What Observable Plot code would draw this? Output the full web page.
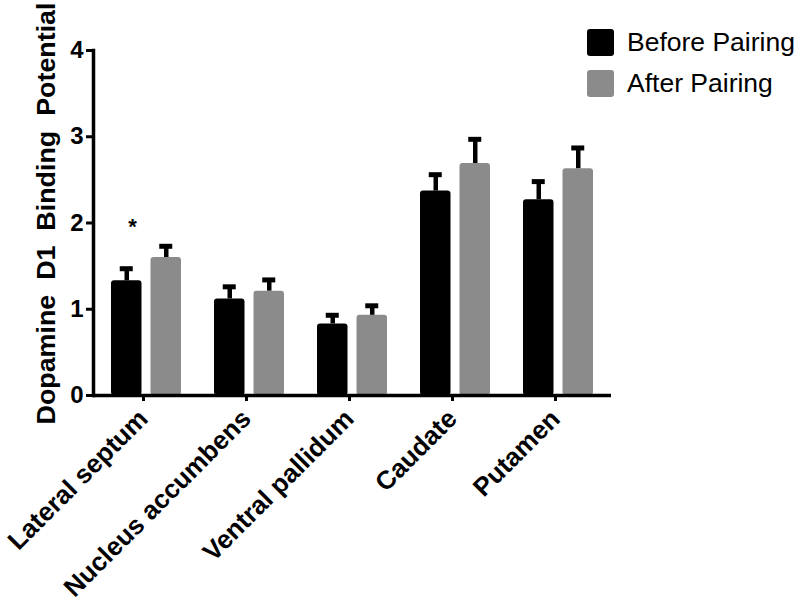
<!DOCTYPE html>
<html><head><meta charset="utf-8">
<script src="https://cdn.jsdelivr.net/npm/d3@7"></script>
<script src="https://cdn.jsdelivr.net/npm/@observablehq/plot@0.6"></script>
<style>
body{margin:0;background:#fff;}
#wrap{position:relative;width:800px;height:605px;font-family:"Liberation Sans",Arial,sans-serif;}
#legend{position:absolute;left:587px;top:22px;}
.item{display:flex;align-items:center;height:41px;font-size:26.5px;color:#000;}
.sw{width:27px;height:27px;border-radius:3px;margin-right:13px;flex:none;}
</style></head><body><div id="wrap"></div>
<script>
const regions = ["Lateral septum", "Nucleus accumbens", "Ventral pallidum", "Caudate", "Putamen"];
const seriesNames = ["Before Pairing", "After Pairing"];
const seriesColors = ["#000000", "#8b8b8b"];
const beforeMean = [1.33, 1.12, 0.83, 2.37, 2.27];
const afterMean = [1.60, 1.21, 0.93, 2.69, 2.63];
const beforeSem = [0.14, 0.14, 0.10, 0.19, 0.21];
const afterSem = [0.13, 0.13, 0.11, 0.28, 0.24];
const yTicks = [0, 1, 2, 3, 4];
const yLabel = "Dopamine  D1  Binding  Potential";
const stars = [{region: "Lateral septum", y: 1.95, text: "*"}];

const rows = [];
regions.forEach((r, i) => {
  rows.push({region: r, series: seriesNames[0], mean: beforeMean[i], sem: beforeSem[i]});
  rows.push({region: r, series: seriesNames[1], mean: afterMean[i], sem: afterSem[i]});
});
const before = rows.filter(d => d.series === seriesNames[0]);
const after = rows.filter(d => d.series === seriesNames[1]);

const font = "'Liberation Sans', Arial, sans-serif";
const chart = Plot.plot({
  width: 800, height: 605,
  marginLeft: 93, marginRight: 189, marginTop: 50, marginBottom: 210,
  style: {fontFamily: font, background: "#fff", color: "#000"},
  x: {domain: regions, paddingInner: 0.324, paddingOuter: 0.162, align: 0.5, label: null},
  y: {domain: [0, 4], label: null},
  color: {domain: seriesNames, range: seriesColors},
  marks: [
    Plot.barY(before, {x: "region", y: "mean", fill: "series", insetLeft: 0, insetRight: 39.5, rx: 3}),
    Plot.barY(after, {x: "region", y: "mean", fill: "series", insetLeft: 39.5, insetRight: 0, rx: 3}),
    Plot.ruleX(before, {x: "region", y1: "mean", y2: d => d.mean + d.sem, dx: -19.75, stroke: "#000", strokeWidth: 4.5}),
    Plot.ruleX(after, {x: "region", y1: "mean", y2: d => d.mean + d.sem, dx: 19.75, stroke: "#000", strokeWidth: 4.5}),
    Plot.tickY(before, {x: "region", y: d => d.mean + d.sem, insetLeft: 8.75, insetRight: 48.25, stroke: "#000", strokeWidth: 5}),
    Plot.tickY(after, {x: "region", y: d => d.mean + d.sem, insetLeft: 48.25, insetRight: 8.75, stroke: "#000", strokeWidth: 5}),
    Plot.text(stars, {x: "region", y: "y", text: "text", dx: -14, fontSize: 22, fontWeight: "bold"}),
    Plot.ruleY([0], {stroke: "#000", strokeWidth: 3.5}),
    Plot.frame({anchor: "left", stroke: "#000", strokeWidth: 3.5}),
    Plot.axisY({ticks: yTicks, tickSize: 7, tickPadding: 3, strokeWidth: 3, fontSize: 24, fontWeight: "bold", tickFormat: d => String(d), label: null}),
    Plot.axisX({tickSize: 6, tickPadding: 13, dx: -3, strokeWidth: 3, tickRotate: -45, fontSize: 26, fontWeight: "bold", label: null}),
    Plot.text([yLabel], {frameAnchor: "left", textAnchor: "middle", rotate: -90, dx: -47, dy: -9.5, fontSize: 26, fontWeight: "bold", lineAnchor: "middle"})
  ]
});
chart.querySelectorAll("text").forEach(t => {
  if (t.textContent === yLabel) {
    t.setAttribute("textLength", "422");
    t.setAttribute("lengthAdjust", "spacingAndGlyphs");
    t.style.whiteSpace = "pre";
  }
});
const wrap = document.getElementById("wrap");
wrap.appendChild(chart);
chart.style.position = "absolute"; chart.style.left = "0"; chart.style.top = "0";
const legend = document.createElement("div");
legend.id = "legend";
seriesNames.forEach((s, i) => {
  const it = document.createElement("div");
  it.className = "item";
  const sw = document.createElement("div");
  sw.className = "sw"; sw.style.background = seriesColors[i];
  const t = document.createElement("span");
  t.textContent = s;
  it.appendChild(sw); it.appendChild(t);
  legend.appendChild(it);
});
wrap.appendChild(legend);
</script></body></html>
